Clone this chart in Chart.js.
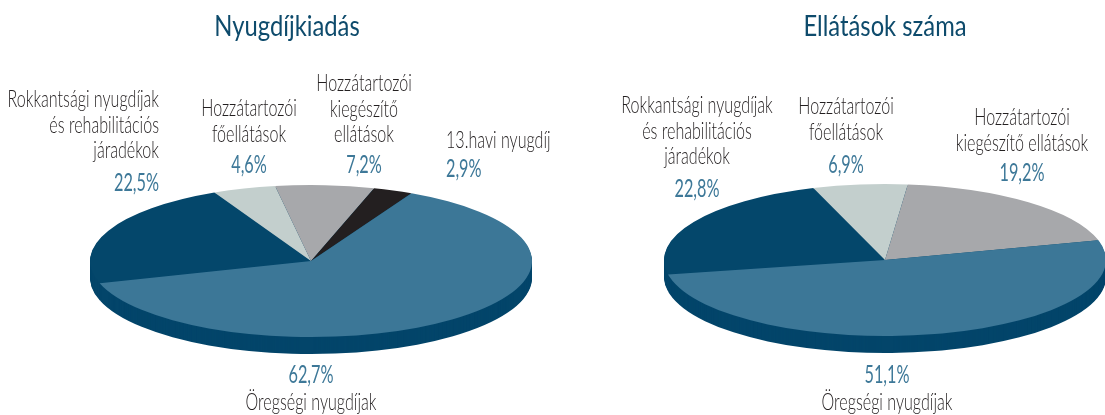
<!DOCTYPE html>
<html>
<head>
<meta charset="utf-8">
<script src="https://cdn.jsdelivr.net/npm/chart.js@4.4.1/dist/chart.umd.min.js"></script>
<style>
  html, body { margin: 0; padding: 0; background: #ffffff; }
  #wrap { position: relative; width: 1105px; height: 415px; overflow: hidden; }
  #wrap canvas { position: absolute; left: 0; top: 0; }
</style>
</head>
<body>
<div id="wrap">
  <canvas id="left" width="1105" height="415"></canvas>
  <canvas id="right" width="1105" height="415"></canvas>
</div>
<script>
// ---------- DATA ----------
const leftTitle = 'Nyugdíjkiadás';
const rightTitle = 'Ellátások száma';

const expenditureCategories = [
  'Rokkantsági nyugdíjak és rehabilitációs járadékok',
  'Hozzátartozói főellátások',
  'Hozzátartozói kiegészítő ellátások',
  '13.havi nyugdíj',
  'Öregségi nyugdíjak'
];
const expenditureShares = [22.5, 4.6, 7.2, 2.9, 62.7];
const expenditureLabelLines = [
  ['Rokkantsági nyugdíjak', 'és rehabilitációs', 'járadékok'],
  ['Hozzátartozói', 'főellátások'],
  ['Hozzátartozói', 'kiegészítő', 'ellátások'],
  ['13.havi nyugdíj'],
  ['Öregségi nyugdíjak']
];

const benefitCategories = [
  'Rokkantsági nyugdíjak és rehabilitációs járadékok',
  'Hozzátartozói főellátások',
  'Hozzátartozói kiegészítő ellátások',
  'Öregségi nyugdíjak'
];
const benefitShares = [22.8, 6.9, 19.2, 51.1];
const benefitLabelLines = [
  ['Rokkantsági nyugdíjak', 'és rehabilitációs', 'járadékok'],
  ['Hozzátartozói', 'főellátások'],
  ['Hozzátartozói', 'kiegészítő ellátások'],
  ['Öregségi nyugdíjak']
];

// ---------- STYLE / LAYOUT ----------
const C_ROKK = '#04476b', C_FO = '#c3cfcd', C_KIEG = '#a7a8ab', C_13 = '#231f20', C_OREG = '#3c7797';
const SIDE = '#03456a';
const PCT_COLOR = '#3d7898';
const TXT_COLOR = '#231f20';
const TITLE_COLOR = '#0e4b6c';
const LABEL_FONT = '300 24px Lato', LABEL_SX = 0.67;
const PCT_FONT = '400 25px Lato', PCT_SX = 0.65;
const TITLE_FONT = '400 29px Lato', TITLE_SX = 0.82;
const LINE_H = 25.5;

// label placements: [x, first baseline, align, percent baseline]
const leftPlacement = [
  [159, 107, 'right', 191],
  [249, 116, 'center', 173],
  [364, 91, 'center', 173],
  [446, 148, 'left', 177],
  [311, 410, 'center', 383]
];
const rightPlacement = [
  [697, 113, 'center', 197],
  [846, 114, 'center', 173],
  [1022, 125, 'center', 181],
  [887, 410, 'center', 383]
];

function fmtPct(v) { return v.toFixed(1).replace('.', ',') + '%'; }

function drawText(ctx, str, x, y, align, font, color, sx) {
  ctx.save();
  ctx.font = font;
  ctx.fillStyle = color;
  ctx.textBaseline = 'alphabetic';
  const w = ctx.measureText(str).width * sx;
  let x0 = x;
  if (align === 'center') x0 = x - w / 2;
  else if (align === 'right') x0 = x - w;
  ctx.translate(x0, y);
  ctx.scale(sx, 1);
  ctx.textAlign = 'left';
  ctx.fillText(str, 0, 0);
  ctx.restore();
}

const pie3d = {
  id: 'pie3d',
  beforeDatasetsDraw(chart, args, opts) {
    const ctx = chart.ctx;
    const arcs = chart.getDatasetMeta(0).data;
    if (!arcs.length) return;
    const cx = arcs[0].x, cy = arcs[0].y;
    const tilt = opts.tilt, depth = opts.depth;
    // side (extrusion)
    for (let d = depth; d >= 1; d--) {
      ctx.save();
      ctx.translate(cx, cy + d);
      ctx.scale(1, tilt);
      ctx.translate(-cx, -cy);
      arcs.forEach(a => {
        const proxy = Object.create(a);
        proxy.options = Object.assign({}, a.options, { backgroundColor: opts.sideColor, borderWidth: 0 });
        a.draw.call(proxy, ctx);
      });
      ctx.restore();
    }
    // top face
    ctx.save();
    ctx.translate(cx, cy);
    ctx.scale(1, tilt);
    ctx.translate(-cx, -cy);
    arcs.forEach(a => a.draw(ctx));
    ctx.restore();
    return false;
  }
};

const pieText = {
  id: 'pieText',
  afterDraw(chart, args, opts) {
    const ctx = chart.ctx;
    const ds = chart.data.datasets[0];
    drawText(ctx, opts.title, opts.titleX, opts.titleY, 'center', TITLE_FONT, TITLE_COLOR, TITLE_SX);
    ds.data.forEach((v, i) => {
      const [x, y, align, py] = opts.placement[i];
      const lines = opts.lines[i];
      lines.forEach((ln, k) => {
        drawText(ctx, ln, x, y + k * LINE_H, align, LABEL_FONT, TXT_COLOR, LABEL_SX);
      });
      drawText(ctx, fmtPct(v), x, py, align, PCT_FONT, PCT_COLOR, PCT_SX);
    });
  }
};

function makePie(id, cats, vals, colors, rotation, center, lines, placement, title, titleX) {
  const W = 1105, H = 415, R = 221;
  const pad = {
    left: Math.max(0, 2 * center[0] - W),
    right: Math.max(0, W - 2 * center[0]),
    top: Math.max(0, 2 * center[1] - H),
    bottom: Math.max(0, H - 2 * center[1])
  };
  return new Chart(document.getElementById(id), {
    type: 'pie',
    data: {
      labels: cats,
      datasets: [{ data: vals, backgroundColor: colors, borderWidth: 0, radius: R }]
    },
    options: {
      responsive: false,
      animation: false,
      events: [],
      rotation: rotation,
      layout: { padding: pad },
      plugins: {
        legend: { display: false },
        tooltip: { enabled: false },
        title: { display: false },
        pie3d: { tilt: 0.344, depth: 17, sideColor: SIDE },
        pieText: { title: title, titleX: titleX, titleY: 36, lines: lines, placement: placement }
      }
    },
    plugins: [pie3d, pieText]
  });
}

makePie('left', expenditureCategories, expenditureShares,
  [C_ROKK, C_FO, C_KIEG, C_13, C_OREG], 253, [311, 261],
  expenditureLabelLines, leftPlacement, leftTitle, 287);
makePie('right', benefitCategories, benefitShares,
  [C_ROKK, C_FO, C_KIEG, C_OREG], 259, [885, 260],
  benefitLabelLines, rightPlacement, rightTitle, 885);
</script>
</body>
</html>
